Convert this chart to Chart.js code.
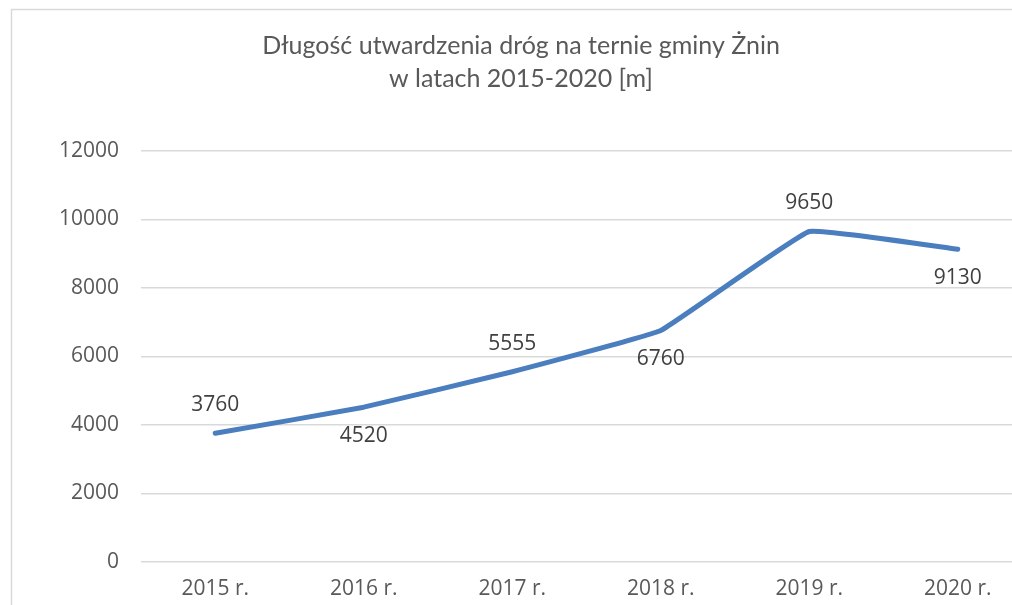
<!DOCTYPE html>
<html><head><meta charset="utf-8">
<script src="https://cdn.jsdelivr.net/npm/chart.js@4"></script>
<style>
html,body{margin:0;padding:0;overflow:hidden;background:#fff;width:1012px;height:605px}
#wrap{position:absolute;left:0;top:0;width:1032px;height:605px}
</style></head><body>
<div id="wrap"><canvas id="c" width="1032" height="605"></canvas></div>
<script>
const titleLines = ['Długość utwardzenia dróg na ternie gminy Żnin', 'w latach 2015-2020 [m]'];
const categories = ['2015 r.', '2016 r.', '2017 r.', '2018 r.', '2019 r.', '2020 r.'];
const values = [3760, 4520, 5555, 6760, 9650, 9130];
const labelAbove = [true, false, true, false, true, false];
const yTicks = [0, 2000, 4000, 6000, 8000, 10000, 12000];

const borderPlugin = {
  id: 'border',
  beforeDraw(chart) {
    const ctx = chart.ctx;
    ctx.save();
    ctx.strokeStyle = '#d9d9d9';
    ctx.lineWidth = 1.5;
    ctx.beginPath();
    ctx.moveTo(11.5, 700);
    ctx.lineTo(11.5, 9.5);
    ctx.lineTo(1100, 9.5);
    ctx.stroke();
    ctx.restore();
  }
};
const labelPlugin = {
  id: 'vlabels',
  afterDatasetsDraw(chart) {
    const ctx = chart.ctx;
    const meta = chart.getDatasetMeta(0);
    ctx.save();
    ctx.font = '21px "Open Sans"';
    ctx.fillStyle = '#404040';
    ctx.textAlign = 'center';
    ctx.textBaseline = 'middle';
    meta.data.forEach((pt, i) => {
      const dy = labelAbove[i] ? -28 : 29;
      ctx.fillText(String(values[i]), pt.x, pt.y + dy);
    });
    ctx.restore();
  }
};

new Chart(document.getElementById('c'), {
  type: 'line',
  data: {
    labels: categories,
    datasets: [{
      data: values,
      borderColor: '#4A7EBE',
      borderWidth: 5,
      pointRadius: 0,
      tension: 0.08,
      fill: false,
      borderCapStyle: 'round',
      borderJoinStyle: 'round'
    }]
  },
  options: {
    responsive: false,
    animation: false,
    layout: { padding: { left: 10, right: 0, top: 0, bottom: 0 } },
    plugins: {
      legend: { display: false },
      tooltip: { enabled: false },
      title: {
        display: true,
        text: titleLines,
        color: '#595959',
        font: { family: 'Lato', size: 25, weight: '400', lineHeight: 1.3 },
        padding: { top: 30, bottom: 56 }
      }
    },
    scales: {
      x: {
        offset: true,
        grid: { display: false, drawTicks: false },
        border: { display: false },
        ticks: { color: '#595959', font: { family: 'Open Sans', size: 21 }, padding: 14 },
        afterFit(s) { s.height = 43; }
      },
      y: {
        min: 0, max: 12000,
        afterBuildTicks(s) { s.ticks = yTicks.map(v => ({ value: v })); },
        grid: { color: '#d9d9d9', lineWidth: 1.5, drawTicks: false },
        border: { display: false },
        ticks: { color: '#595959', font: { family: 'Open Sans', size: 21 }, padding: 22,
                 callback: (v) => String(v) },
        afterFit(s) { s.width = 131; }
      }
    }
  },
  plugins: [borderPlugin, labelPlugin]
});
</script>
</body></html>
